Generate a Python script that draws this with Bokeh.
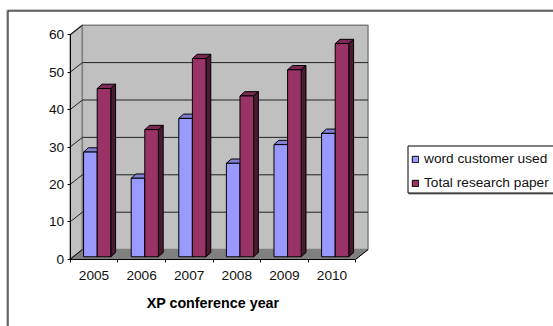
from bokeh.embed import file_html
from bokeh.models import (BoxAnnotation, ColumnDataSource, FixedTicker, Legend, LegendItem,
                          LinearAxis, Range1d)
from bokeh.plotting import figure
from bokeh.resources import INLINE

years = ["2005", "2006", "2007", "2008", "2009", "2010"]
word_customer_used = [28, 21, 37, 25, 30, 33]
total_research_paper = [45, 34, 53, 43, 50, 57]
y_ticks = [0, 10, 20, 30, 40, 50, 60]

W, H = 553, 326
FONT = "Liberation Sans"

# Pixel layout of the front plane of the 3-D box
X0, CAT_W = 69.7, 47.6
Y0, UNIT_H = 258.7, 3.74

# Depth of the box and of the bars, in data units
BOX_DX, BOX_DY = 12.2 / CAT_W, 9.6 / UNIT_H
BAR_DX, BAR_DY = 4.8 / CAT_W, 4.3 / UNIT_H
PLANE_DY = 2.4 / UNIT_H
BAR_W = 13.6 / CAT_W
BAR_CENTRE = 0.567

p = figure(width=W, height=H, output_backend="svg", toolbar_location=None,
           x_axis_type=None, y_axis_type=None, min_border=0,
           x_range=Range1d(-X0 / CAT_W, (W - X0) / CAT_W),
           y_range=Range1d(-(H - Y0) / UNIT_H, Y0 / UNIT_H),
           outline_line_color=None, background_fill_color="white", border_fill_color="white")
p.grid.visible = False

n = len(years)
top = y_ticks[-1]


def screen_box(left, right, from_top, to_bottom, **style):
    """Box placed by its distance from the left and top edges of the canvas."""
    return BoxAnnotation(left=left, right=right, top=H - from_top, bottom=H - to_bottom,
                         left_units="screen", right_units="screen", top_units="screen",
                         bottom_units="screen", line_alpha=1, **style)


# Chart-area border, with its soft grey edge
p.add_layout(screen_box(6.5, W + 5, 9.5, H + 5, fill_color=None, line_color="#909090",
                        line_width=1, level="underlay"))
p.add_layout(screen_box(7.5, W + 5, 10.5, H + 5, fill_color=None, line_color="black",
                        line_width=1, level="underlay"))

# Side wall, back wall and floor
p.patch([0, BOX_DX, BOX_DX, 0], [top, top + BOX_DY, BOX_DY, 0],
        fill_color="#C0C0C0", line_color="#808080", line_width=1.5)
p.patch([BOX_DX, n + BOX_DX, n + BOX_DX, BOX_DX], [BOX_DY, BOX_DY, top + BOX_DY, top + BOX_DY],
        fill_color="#C0C0C0", line_color="#808080", line_width=1.5)
p.patch([0, BOX_DX, n + BOX_DX, n], [0, BOX_DY, BOX_DY, 0],
        fill_color="#808080", line_color="#808080", line_width=1)

# Gridlines wrap from the side wall round the back wall
inner = y_ticks[1:-1]
p.multi_line([[0, BOX_DX, n + BOX_DX] for _ in inner],
             [[v, v + BOX_DY, v + BOX_DY] for v in inner],
             line_color="#222222", line_width=1)
p.multi_line([[0, BOX_DX], [n, n + BOX_DX]], [[0, BOX_DY], [0, BOX_DY]],
             line_color="black", line_width=1)
p.multi_line([[0, BOX_DX]], [[top, top + BOX_DY]], line_color="black", line_width=1)


def draw_series(values, offset, front, roof, side):
    """Draw one series as extruded bars and return the renderer of the front faces."""
    lefts = [i + BAR_CENTRE + offset for i in range(n)]
    rights = [x + BAR_W for x in lefts]
    tops = [v + PLANE_DY for v in values]
    source = ColumnDataSource(dict(x=[(a + b) / 2 for a, b in zip(lefts, rights)], top=tops))
    p.patches([[r, r + BAR_DX, r + BAR_DX, r] for r in rights],
              [[PLANE_DY, PLANE_DY + BAR_DY, t + BAR_DY, t] for t in tops],
              fill_color=side, line_color="black", line_width=1)
    p.patches([[a, a + BAR_DX, b + BAR_DX, b] for a, b in zip(lefts, rights)],
              [[t, t + BAR_DY, t + BAR_DY, t] for t in tops],
              fill_color=roof, line_color="black", line_width=1)
    return p.vbar(x="x", top="top", bottom=PLANE_DY, width=BAR_W, source=source,
                  fill_color=front, line_color="black", line_width=1)


blue = draw_series(word_customer_used, -BAR_W, "#9999FF", "#7F7FD4", "#4C4C80")
red = draw_series(total_research_paper, 0, "#993366", "#7A2952", "#4C1933")

# Axes sit on the front plane of the box
y_axis = LinearAxis(fixed_location=0, ticker=FixedTicker(ticks=y_ticks), bounds=(0, top),
                    major_tick_in=0, major_tick_out=3, minor_tick_line_color=None,
                    axis_line_color="black", major_tick_line_color="black",
                    major_label_standoff=3, major_label_text_font=FONT,
                    major_label_text_font_size="13.7px", major_label_text_color="#111111")
p.add_layout(y_axis, "left")

x_ticks_axis = LinearAxis(fixed_location=0, ticker=FixedTicker(ticks=list(range(n + 1))),
                          bounds=(0, n), major_tick_in=0, major_tick_out=3,
                          minor_tick_line_color=None, axis_line_color="black",
                          major_tick_line_color="black", major_label_text_color=None,
                          major_label_text_font_size="1px")
p.add_layout(x_ticks_axis, "below")

year_axis = LinearAxis(fixed_location=0, ticker=FixedTicker(ticks=[i + 0.5 for i in range(n)]),
                       major_label_overrides={i + 0.5: y for i, y in enumerate(years)},
                       bounds=(0, n), axis_line_color=None, major_tick_line_color=None,
                       minor_tick_line_color=None, major_label_standoff=6,
                       major_label_text_font=FONT, major_label_text_font_size="13.7px",
                       major_label_text_color="#111111", axis_label="XP conference year",
                       axis_label_text_font=FONT, axis_label_text_font_size="14.3px",
                       axis_label_text_font_style="bold", axis_label_text_color="black",
                       axis_label_standoff=11)
p.add_layout(year_axis, "below")

# Legend panel with its drop shadow, then the entries on top of it
p.add_layout(screen_box(408, W + 5, 192.5, 194, fill_color="#808080", fill_alpha=1,
                        line_color=None))
p.add_layout(screen_box(407.5, W + 5, 145.5, 192.5, fill_color="white", fill_alpha=1,
                        line_color="black", line_width=1))
legend = Legend(items=[LegendItem(label="word customer used", renderers=[blue]),
                       LegendItem(label="Total research paper", renderers=[red])],
                location=(411, H - 191.5), orientation="vertical", margin=0, padding=3,
                spacing=6, glyph_width=8, glyph_height=8, label_height=18, label_standoff=5,
                label_text_font=FONT, label_text_font_size="13.7px", label_text_color="#111111",
                border_line_color=None, background_fill_alpha=0)
p.add_layout(legend, "center")

open("out.html", "w").write(file_html(p, INLINE))
